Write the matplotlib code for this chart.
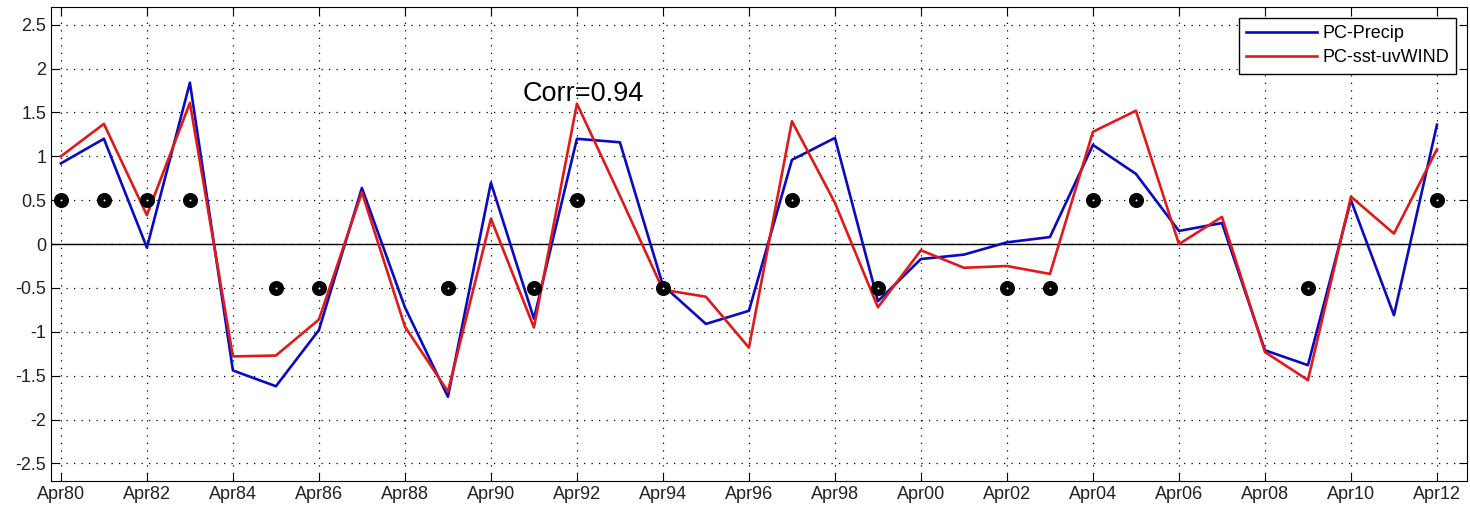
import matplotlib.pyplot as plt
import numpy as np

plt.rcParams['font.family'] = ['Liberation Sans', 'DejaVu Sans']

blue = '#0A0AC0'
red = '#E01A1A'

years = np.arange(1980, 2013)
pc_precip = [0.92, 1.20, -0.04, 1.84, -1.44, -1.62, -0.98, 0.64, -0.72, -1.74,
             0.70, -0.85, 1.20, 1.16, -0.47, -0.91, -0.76, 0.96, 1.21, -0.65,
             -0.17, -0.12, 0.02, 0.08, 1.13, 0.80, 0.15, 0.24, -1.21, -1.38,
             0.50, -0.81, 1.36]
pc_sst_wind = [1.00, 1.37, 0.33, 1.61, -1.28, -1.27, -0.86, 0.59, -0.94, -1.68,
               0.29, -0.95, 1.60, 0.55, -0.52, -0.60, -1.18, 1.40, 0.47, -0.72,
               -0.07, -0.27, -0.25, -0.34, 1.28, 1.52, 0.00, 0.31, -1.23, -1.55,
               0.54, 0.12, 1.08]

up_years = [1980, 1981, 1982, 1983, 1992, 1997, 2004, 2005, 2012]
down_years = [1985, 1986, 1989, 1991, 1994, 1999, 2002, 2003, 2009]

tick_years = np.arange(1980, 2013, 2)
tick_labels = ['Apr%02d' % (y % 100) for y in tick_years]

fig = plt.figure(figsize=(14.7, 5.12), dpi=100)
ax = fig.add_axes([0.0347, 0.0605, 0.9633, 0.9255])

ax.axhline(0, color='black', linewidth=1.0, zorder=1)
ax.plot(years, pc_precip, color=blue, linewidth=1.9, label='PC-Precip', zorder=3)
ax.plot(years, pc_sst_wind, color=red, linewidth=1.9, label='PC-sst-uvWIND', zorder=3)

for yrs, val in [(up_years, 0.5), (down_years, -0.5)]:
    ax.plot(yrs, [val] * len(yrs), linestyle='none', marker='o',
            markersize=6.2, mfc='white', mec='black', mew=4.6, zorder=4)

ax.text(1990.74, 1.71, 'Corr=0.94', fontsize=19.5, va='center', ha='left')

ax.set_xlim(1979.77, 2012.70)
ax.set_ylim(-2.7, 2.7)
ax.set_xticks(tick_years)
ax.set_xticklabels(tick_labels)
ax.set_yticks(np.arange(-2.5, 2.51, 0.5))
ax.set_yticklabels(['%g' % v for v in np.arange(-2.5, 2.51, 0.5)])
ax.tick_params(direction='in', top=True, right=True, length=6, labelsize=13,
               colors='black', labelcolor='#222222')
ax.grid(True, linestyle=(0, (1, 5)), color='black', linewidth=0.9)

leg = ax.legend(loc='upper right', fontsize=13, fancybox=False,
                edgecolor='black', framealpha=1, handlelength=3.9,
                handletextpad=0.3, labelspacing=0.4, borderaxespad=0.6)
leg.get_frame().set_linewidth(1.0)

plt.savefig('out.png', dpi=100)
